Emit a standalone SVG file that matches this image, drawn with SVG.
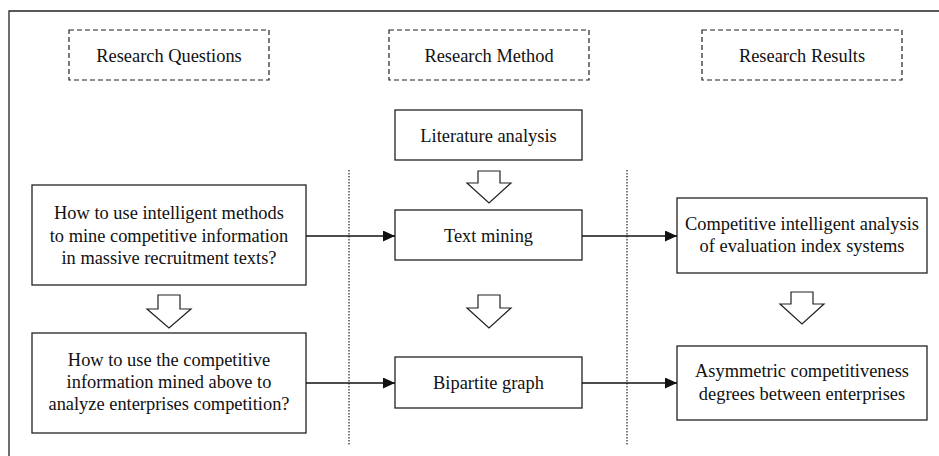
<svg xmlns="http://www.w3.org/2000/svg" width="939" height="456" viewBox="0 0 939 456">
<defs>
<style>
.frame{fill:none;stroke:#222;stroke-width:1.3}
.box{fill:#fff;stroke:#222;stroke-width:1.3}
.dbox{fill:#fff;stroke:#222;stroke-width:1.2;stroke-dasharray:5,3}
.sep{fill:none;stroke:#222;stroke-width:1.2;stroke-dasharray:1.5,1.5}
.conn{fill:none;stroke:#111;stroke-width:1.5}
.hollow{fill:#fff;stroke:#222;stroke-width:1.2;stroke-linejoin:miter}
.t{font-size:18.4px;fill:#111;text-anchor:middle}
</style>
<marker id="ah" viewBox="0 0 12 11" refX="12" refY="5.5" markerWidth="12" markerHeight="11" markerUnits="userSpaceOnUse" orient="auto">
<path d="M0,0 L12,5.5 L0,11 Z" fill="#111"/>
</marker>
</defs>
<rect width="939" height="456" fill="#fff"/>
<path class="frame" d="M9,456 V11 H939"/>
<g id="separators">
<line class="sep" x1="349" y1="170" x2="349" y2="445"/>
<line class="sep" x1="627" y1="170" x2="627" y2="445"/>
</g>
<g font-family="Liberation Serif, DejaVu Serif, serif">
<g id="hdr-questions"><rect class="dbox" x="69" y="30" width="200" height="50"/><text class="t" x="169" y="62">Research Questions</text></g>
<g id="hdr-method"><rect class="dbox" x="389" y="30" width="200" height="50"/><text class="t" x="489" y="62">Research Method</text></g>
<g id="hdr-results"><rect class="dbox" x="702" y="30" width="200" height="50"/><text class="t" x="802" y="62">Research Results</text></g>
<g id="literature"><rect class="box" x="395" y="110" width="187" height="50"/><text class="t" x="488.5" y="142">Literature analysis</text></g>
<g id="textmining"><rect class="box" x="395" y="210" width="187" height="50"/><text class="t" x="488.5" y="242">Text mining</text></g>
<g id="bipartite"><rect class="box" x="395" y="357" width="187" height="51"/><text class="t" x="488.5" y="389">Bipartite graph</text></g>
<g id="q1"><rect class="box" x="32" y="185" width="274" height="100"/>
<text class="t" x="169" y="219">How to use intelligent methods</text>
<text class="t" x="169" y="242">to mine competitive information</text>
<text class="t" x="169" y="264">in massive recruitment texts?</text></g>
<g id="q2"><rect class="box" x="32" y="333" width="274" height="100"/>
<text class="t" x="169" y="366">How to use the competitive</text>
<text class="t" x="169" y="388">information mined above to</text>
<text class="t" x="169" y="410">analyze enterprises competition?</text></g>
<g id="r1"><rect class="box" x="677" y="198" width="250" height="75"/>
<text class="t" x="802" y="230">Competitive intelligent analysis</text>
<text class="t" x="802" y="252">of evaluation index systems</text></g>
<g id="r2"><rect class="box" x="677" y="346" width="250" height="74"/>
<text class="t" x="802" y="377">Asymmetric competitiveness</text>
<text class="t" x="802" y="400">degrees between enterprises</text></g>
</g>
<g id="connectors">
<line class="conn" x1="306" y1="236" x2="395" y2="236" marker-end="url(#ah)"/>
<line class="conn" x1="306" y1="383" x2="395" y2="383" marker-end="url(#ah)"/>
<line class="conn" x1="582" y1="236" x2="677" y2="236" marker-end="url(#ah)"/>
<line class="conn" x1="582" y1="383" x2="677" y2="383" marker-end="url(#ah)"/>
<path class="hollow" d="M478,171 H500 V183 H511 L489,203 L467,183 H478 Z"/>
<path class="hollow" d="M478,295 H500 V308 H511 L489,328 L467,308 H478 Z"/>
<path class="hollow" d="M158,295 H180 V309 H191 L169,328 L147,309 H158 Z"/>
<path class="hollow" d="M791,292 H813 V304 H824 L802,324 L780,304 H791 Z"/>
</g>
</svg>
